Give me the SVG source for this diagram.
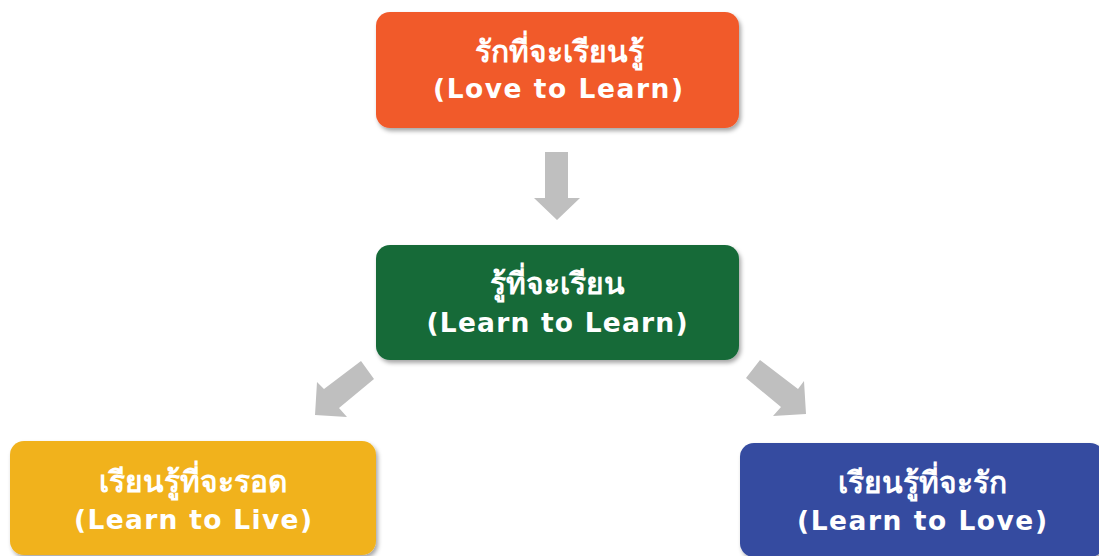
<svg xmlns="http://www.w3.org/2000/svg" width="1099" height="556" viewBox="0 0 1099 556">
<defs>
<filter id="sh" x="-10%" y="-10%" width="125%" height="135%">
<feDropShadow dx="2" dy="3" stdDeviation="2" flood-color="#000" flood-opacity="0.35"/>
</filter>
<style>
.box{filter:url(#sh);}
.th{font-family:"Noto Sans","DejaVu Sans",sans-serif;font-weight:bold;font-size:30px;fill:#fff;text-anchor:middle;}
.en{font-family:"DejaVu Sans","Noto Sans",sans-serif;font-weight:bold;font-size:26.5px;fill:#fff;text-anchor:middle;}
.arr{fill:#BFBFBF;}
</style>
</defs>
<rect width="1099" height="556" fill="#fff"/>
<g id="connectors">
<polygon class="arr" points="545,152 568,152 568,198 580,198 557,220 534,198 545,198"/>
<polygon class="arr" points="361,361 374,379 339,408 347,417 315,415 317,382 324,389"/>
<polygon class="arr" points="760,360 798,389 804,381 806,414 773,416 781,407 746,378"/>
</g>
<g id="love-to-learn">
<rect class="box" x="376" y="12" width="363" height="116" rx="14" fill="#F15A2C"/>
<text class="th" x="559" y="62">รักที่จะเรียนรู้</text>
<text class="en" x="558" y="98" textLength="250" lengthAdjust="spacing">(Love to Learn)</text>
</g>
<g id="learn-to-learn">
<rect class="box" x="376" y="245" width="363" height="115" rx="14" fill="#146B39"/>
<text class="th" x="557" y="294">รู้ที่จะเรียน</text>
<text class="en" x="557" y="332" textLength="261" lengthAdjust="spacing">(Learn to Learn)</text>
</g>
<g id="learn-to-live">
<rect class="box" x="10" y="441" width="366" height="114" rx="14" fill="#F1B21D"/>
<text class="th" x="193" y="492">เรียนรู้ที่จะรอด</text>
<text class="en" x="193" y="529" textLength="238" lengthAdjust="spacing">(Learn to Live)</text>
</g>
<g id="learn-to-love">
<rect class="box" x="740" y="443" width="364" height="114" rx="14" fill="#344BA0"/>
<text class="th" x="922" y="493">เรียนรู้ที่จะรัก</text>
<text class="en" x="922" y="530" textLength="250" lengthAdjust="spacing">(Learn to Love)</text>
</g>
</svg>
